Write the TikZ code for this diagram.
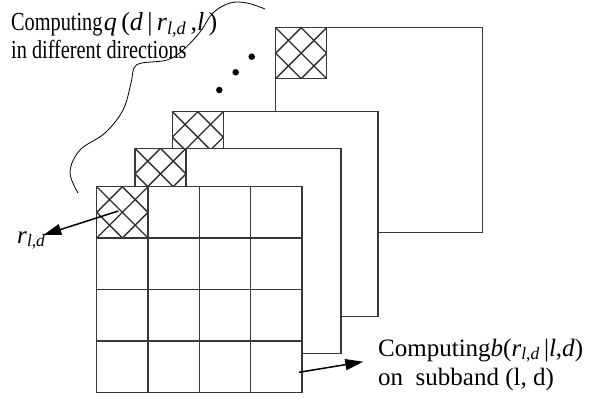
\documentclass[tikz,border=0pt]{standalone}
\usepackage{fontspec}
\setmainfont{Liberation Serif}
\newfontfamily\narrowserif[FakeStretch=0.78]{Liberation Serif}
\usetikzlibrary{arrows.meta}

\tikzset{
  edge/.style={draw=black!78, line width=1.3pt},
  sheet/.style={edge, fill=white},
  hatch/.style={draw=black!82, line width=1.35pt},
  pointer/.style={draw=black, line width=1.5pt, -{Triangle[length=18pt,width=11pt]}},
  dotmark/.style={fill=black, circle, inner sep=0pt, minimum size=6.5pt},
  wave/.style={draw=black, line width=0.8pt},
  lbl/.style={anchor=base west, inner sep=0pt},
}

% one cross-hatched cell: #1,#2 = top-left corner, #3 = side
\newcommand\hatchedcell[3]{%
  \begin{scope}
    \clip (#1,#2) rectangle ++(#3,#3);
    \foreach \k in {-3,...,4} {
      \draw[hatch] ({#1+\k*#3/2}, #2) -- ++(#3, #3);
      \draw[hatch] ({#1+\k*#3/2}, #2) -- ++(-#3, #3);
    }
  \end{scope}
  \draw[edge] (#1,#2) rectangle ++(#3,#3);
}

\begin{document}
\begin{tikzpicture}[x=1pt, y=-1pt]
\useasboundingbox (0,0) rectangle (591,397);

% back sheet
\draw[sheet] (275.7,27.7) rectangle (482.3,232.7);
\hatchedcell{275.7}{27.7}{51}
% third sheet
\draw[sheet] (172.3,111.7) rectangle (378,316.7);
\hatchedcell{172.3}{111.7}{51}
% second sheet
\draw[sheet] (135,148.3) rectangle (341,353.3);
\hatchedcell{135}{148.3}{51}
% front sheet with its 4x4 grid
\draw[sheet] (96.7,186.7) rectangle (302,392.3);
\hatchedcell{96.7}{186.7}{51.3}
\foreach \i in {1,2,3} {
  \draw[edge] ({96.7+\i*51.3},186.7) -- ({96.7+\i*51.3},392.3);
  \draw[edge] (96.7,{186.7+\i*51.4}) -- (302,{186.7+\i*51.4});
}

% ellipsis between sheets
\node[dotmark] (dotA) at (251.7,56.7) {};
\node[dotmark] (dotB) at (235.7,72.3) {};
\node[dotmark] (dotC) at (219.3,90) {};

% upper label
\node[lbl, font=\fontsize{26}{28}\selectfont] (qline) at (11,30.7)
  {{\narrowserif Computing}\kern1.5pt\textit{q}\,(\textit{d}\,|\,\textit{r}\textsubscript{\textit{l},\textit{d}}\,,\textit{l}\,)};
\node[lbl, font=\narrowserif\fontsize{26}{28}\selectfont] (qline2) at (11,58.5)
  {in different directions};

% wavy bracket enclosing the sheets
\draw[wave] plot[smooth, tension=0.6] coordinates {
  (78,193) (70,172) (80,150) (105,133) (123,110) (131,83) (134,68)
  (142,63) (167,60) (183,50) (200,32) (213,13) (230,3) (247,3) (265,9)};

% coefficient label and arrow
\node[lbl, font=\fontsize{25}{27}\selectfont] (rlabel) at (17,243)
  {\textit{r}\textsubscript{\textit{l},\textit{d}}};
\coordinate (rcell) at (118.3,211);
\coordinate (rtip) at (43.3,235);
\draw[pointer] (rcell) -- (rtip);

% lower label and arrow
\node[lbl, font=\fontsize{25}{29}\selectfont] (bline) at (378,356)
  {Computing\textit{b}(\textit{r}\textsubscript{\textit{l},\textit{d}}\,|\textit{l},\textit{d})};
\node[lbl, font=\fontsize{25}{29}\selectfont] (bline2) at (378,385)
  {on\ \ subband (l, d)};
\coordinate (bcell) at (299,372.3);
\coordinate (btip) at (363.3,361.7);
\draw[pointer] (bcell) -- (btip);
\end{tikzpicture}
\end{document}
